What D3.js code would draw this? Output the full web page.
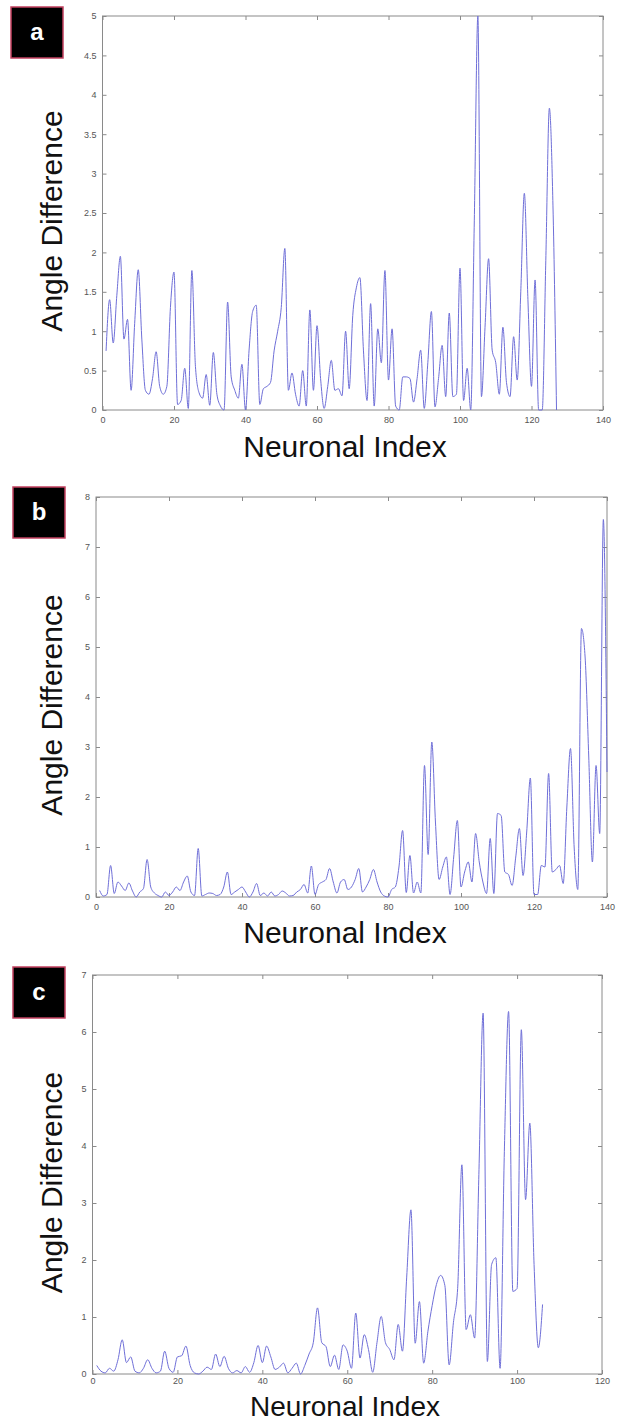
<!DOCTYPE html>
<html>
<head>
<meta charset="utf-8">
<script src="https://cdn.jsdelivr.net/npm/d3@7"></script>
<style>
  body { margin: 0; background: #fff; }
  svg { display: block; font-family: "Liberation Sans", Arial, sans-serif; }
</style>
</head>
<body>
<svg width="621" height="1422"></svg>
<script>
// angle difference per neuronal index (index = position + 1)
const angleA = [0.75, 1.4, 0.85, 1.45, 1.95, 0.9, 1.15, 0.25, 1.1, 1.78,
  0.9, 0.25, 0.2, 0.4, 0.74, 0.3, 0.2, 0.3, 1.3, 1.75,
  0.07, 0.12, 0.53, 0.02, 1.77, 0.55, 0.22, 0.15, 0.45, 0.06,
  0.73, 0.2, 0.05, 0.0, 1.37, 0.42, 0.25, 0.15, 0.58, 0.0,
  0.76, 1.25, 1.33, 0.07, 0.27, 0.3, 0.35, 0.75, 1.0, 1.3,
  2.05, 0.25, 0.47, 0.2, 0.05, 0.5, 0.05, 1.27, 0.25, 1.07,
  0.4, 0.02, 0.3, 0.63, 0.25, 0.27, 0.18, 1.0, 0.27, 1.2,
  1.55, 1.68, 0.75, 0.12, 1.35, 0.05, 1.03, 0.6, 1.77, 0.38,
  1.03, 0.05, 0.0, 0.42, 0.42, 0.4, 0.1, 0.4, 0.76, 0.02,
  0.6, 1.25, 0.04, 0.4, 0.82, 0.17, 1.23, 0.17, 0.2, 1.8,
  0.12, 0.53, 0.0, 2.4, 5.0, 0.17, 1.05, 1.92, 0.76, 0.6,
  0.2, 1.05, 0.35, 0.17, 0.93, 0.38, 1.5, 2.75, 1.4, 0.3,
  1.65, 0.0, 0.0, 1.9, 3.83, 2.6, 0.0];

const angleB = [0.13, 0.02, 0.05, 0.63, 0.07, 0.3, 0.22, 0.13, 0.28, 0.12,
  0.0, 0.1, 0.17, 0.75, 0.2, 0.08, 0.03, 0.0, 0.1, 0.03,
  0.1, 0.2, 0.13, 0.3, 0.42, 0.1, 0.03, 0.97, 0.02, 0.05,
  0.08, 0.07, 0.03, 0.05, 0.2, 0.5, 0.05, 0.1, 0.15, 0.2,
  0.1, 0.0, 0.1, 0.27, 0.03, 0.08, 0.02, 0.1, 0.02, 0.05,
  0.12, 0.08, 0.02, 0.03, 0.1, 0.15, 0.25, 0.08, 0.62, 0.05,
  0.25, 0.3, 0.35, 0.57, 0.3, 0.08, 0.3, 0.35, 0.15, 0.2,
  0.35, 0.57, 0.1, 0.2, 0.35, 0.55, 0.3, 0.1, 0.02, 0.0,
  0.15, 0.2, 0.6, 1.33, 0.09, 0.83, 0.08, 0.3, 0.08, 2.63,
  0.85, 3.1, 1.5, 0.35, 0.6, 0.8, 0.05, 0.8, 1.53, 0.2,
  0.5, 0.7, 0.3, 1.27, 0.7, 0.3, 0.07, 1.17, 0.07, 1.67,
  1.63, 0.5, 0.45, 0.23, 0.8, 1.37, 0.43, 1.3, 2.38, 0.05,
  0.05, 0.63, 0.6, 2.47, 0.5, 0.55, 0.63, 0.27, 1.8, 2.97,
  1.0, 0.15, 5.37, 4.8, 2.8, 0.7, 2.63, 1.27, 7.55, 2.5];

const angleC = [0.15, 0.05, 0.02, 0.1, 0.05, 0.25, 0.6, 0.2, 0.3, 0.05,
  0.02, 0.1, 0.25, 0.1, 0.02, 0.05, 0.4, 0.1, 0.03, 0.3,
  0.32, 0.49, 0.15, 0.02, 0.0, 0.05, 0.12, 0.08, 0.35, 0.13,
  0.31, 0.1, 0.02, 0.06, 0.02, 0.13, 0.03, 0.2, 0.5, 0.2,
  0.49, 0.3, 0.08, 0.12, 0.19, 0.02, 0.1, 0.19, 0.0, 0.15,
  0.35, 0.55, 1.16, 0.55, 0.48, 0.13, 0.33, 0.08, 0.51, 0.4,
  0.1, 1.07, 0.28, 0.69, 0.43, 0.03, 0.55, 1.01, 0.55, 0.43,
  0.25, 0.87, 0.4, 1.7, 2.88, 0.54, 1.27, 0.19, 0.75, 1.2,
  1.57, 1.73, 1.55, 0.16, 0.9, 1.5, 3.67, 0.78, 1.04, 0.63,
  3.5, 6.33, 0.22, 1.92, 2.04, 0.1, 3.9, 6.36, 1.45, 1.5,
  6.04, 3.06, 4.4, 1.92, 0.46, 1.22];

const panelLabels = ["a", "b", "c"];
const xTicksAC = [0, 20, 40, 60, 80, 100, 120, 140];
const xTicksC = [0, 20, 40, 60, 80, 100, 120];
const yTicksA = [0, 0.5, 1, 1.5, 2, 2.5, 3, 3.5, 4, 4.5, 5];
const yTicksB = [0, 1, 2, 3, 4, 5, 6, 7, 8];
const yTicksC = [0, 1, 2, 3, 4, 5, 6, 7];

const panels = [
  { label: panelLabels[0], values: angleA, xTicks: xTicksAC, yTicks: yTicksA,
    x0: 102.5, x1: 603, y0: 16, y1: 410, box: [11, 7], titleY: 457, titleSize: 30, pad: 7 },
  { label: panelLabels[1], values: angleB, xTicks: xTicksAC, yTicks: yTicksB,
    x0: 96, x1: 607, y0: 497, y1: 897, box: [13, 487], titleY: 943, titleSize: 30, pad: 7 },
  { label: panelLabels[2], values: angleC, xTicks: xTicksC, yTicks: yTicksC,
    x0: 92.5, x1: 602, y0: 975, y1: 1374, box: [13, 967], titleY: 1416, titleSize: 28, pad: 4 }
];

const svg = d3.select("svg");
const fmt = d3.format("~g");

for (const p of panels) {
  const x = d3.scaleLinear()
    .domain([p.xTicks[0], p.xTicks[p.xTicks.length - 1]])
    .range([p.x0, p.x1]);
  const y = d3.scaleLinear()
    .domain([p.yTicks[0], p.yTicks[p.yTicks.length - 1]])
    .range([p.y1, p.y0]);

  const g = svg.append("g");

  // box
  g.append("rect")
    .attr("x", p.x0).attr("y", p.y0)
    .attr("width", p.x1 - p.x0).attr("height", p.y1 - p.y0)
    .attr("fill", "none").attr("stroke", "#8a8a8a").attr("stroke-width", 1);

  const styleAxis = sel => {
    sel.select(".domain").remove();
    sel.selectAll("line").attr("stroke", "#8a8a8a");
    sel.selectAll("text").attr("fill", "#555").attr("font-size", 9);
  };

  g.append("g").attr("transform", `translate(0,${p.y1})`)
    .call(d3.axisBottom(x).tickValues(p.xTicks).tickSizeInner(-4).tickSizeOuter(0)
      .tickPadding(p.pad).tickFormat(fmt))
    .call(styleAxis);
  g.append("g").attr("transform", `translate(0,${p.y0})`)
    .call(d3.axisTop(x).tickValues(p.xTicks).tickSizeInner(-4).tickSizeOuter(0)
      .tickFormat(""))
    .call(styleAxis);
  g.append("g").attr("transform", `translate(${p.x0},0)`)
    .call(d3.axisLeft(y).tickValues(p.yTicks).tickSizeInner(-4).tickSizeOuter(0)
      .tickPadding(6).tickFormat(fmt))
    .call(styleAxis);
  g.append("g").attr("transform", `translate(${p.x1},0)`)
    .call(d3.axisRight(y).tickValues(p.yTicks).tickSizeInner(-4).tickSizeOuter(0)
      .tickFormat(""))
    .call(styleAxis);

  // data line
  const line = d3.line()
    .x((d, i) => x(i + 1))
    .y(d => y(d))
    .curve(d3.curveMonotoneX);
  g.append("path")
    .datum(p.values)
    .attr("fill", "none")
    .attr("stroke", "#6f6fd8")
    .attr("stroke-width", 1)
    .attr("stroke-linejoin", "round")
    .attr("d", line);

  // axis titles
  g.append("text")
    .attr("x", 345).attr("y", p.titleY)
    .attr("text-anchor", "middle")
    .attr("font-size", p.titleSize)
    .attr("fill", "#111")
    .text("Neuronal Index");
  g.append("text")
    .attr("transform", `translate(62,${(p.y0 + p.y1) / 2 + 8}) rotate(-90)`)
    .attr("text-anchor", "middle")
    .attr("font-size", 30)
    .attr("fill", "#111")
    .text("Angle Difference");

  // panel label box
  g.append("rect")
    .attr("x", p.box[0]).attr("y", p.box[1])
    .attr("width", 52).attr("height", 51)
    .attr("fill", "#000")
    .attr("stroke", "#c2405f").attr("stroke-width", 1.5);
  g.append("text")
    .attr("x", p.box[0] + 26).attr("y", p.box[1] + 33)
    .attr("text-anchor", "middle")
    .attr("font-size", 24).attr("font-weight", "bold")
    .attr("fill", "#fff")
    .text(p.label);
}
</script>
</body>
</html>
